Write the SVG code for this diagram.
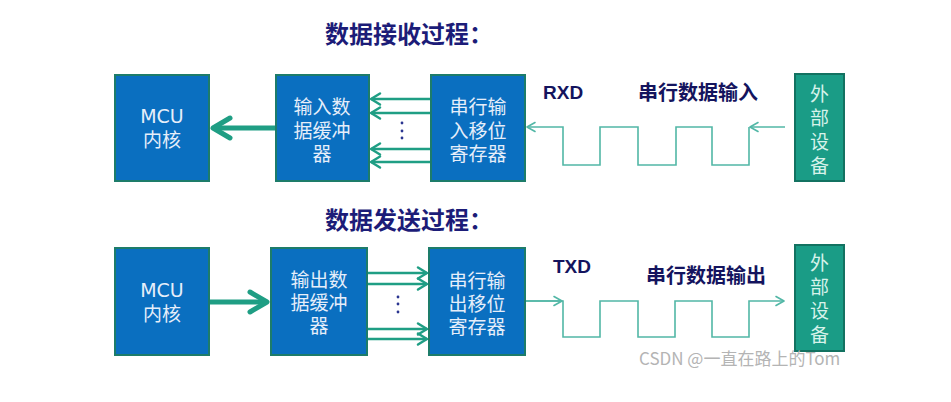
<svg xmlns="http://www.w3.org/2000/svg" width="951" height="402" viewBox="0 0 951 402">
<style>
.title{font-family:"Noto Sans CJK SC","Liberation Sans",sans-serif;font-size:24px;font-weight:bold;fill:#1c1c78}
.lbl{font-family:"Liberation Sans","Noto Sans CJK SC",sans-serif;font-size:19px;font-weight:bold;fill:#14145e}
.cn{font-family:"Noto Sans CJK SC",sans-serif;font-size:20px;font-weight:bold;fill:#14145e}
.box{fill:#0a6fc0;stroke:#1d7c6a;stroke-width:2}
.ext{fill:#1a9c86;stroke:#137261;stroke-width:2}
.bt{font-family:"DejaVu Sans","Noto Sans CJK SC",sans-serif;font-size:19px;fill:#e6eefa;text-anchor:middle}
.et{font-family:"DejaVu Sans","Noto Sans CJK SC",sans-serif;font-size:19px;fill:#d6f2ea;text-anchor:middle}
.thick{stroke:#1f9e84;stroke-width:5;fill:none}
.thin{stroke:#1f9e84;stroke-width:2.5;fill:none}
.wave{stroke:#52b7a6;stroke-width:1.6;fill:none}
.dot{fill:#2a3590}
.wm{font-family:"Noto Sans CJK SC","Liberation Sans",sans-serif;font-size:17px;fill:#b4b4b4}
</style>
<defs>
<marker id="mThick" markerUnits="userSpaceOnUse" viewBox="-24 -14 28 28" refX="0" refY="0" markerWidth="28" markerHeight="28" orient="auto">
<path d="M-17,-10 L0,0 L-17,10" fill="none" stroke="#1f9e84" stroke-width="5" stroke-linecap="round" stroke-linejoin="round"/>
</marker>
<marker id="mThin" markerUnits="userSpaceOnUse" viewBox="-14 -8 16 16" refX="0" refY="0" markerWidth="16" markerHeight="16" orient="auto">
<path d="M-9,-5.5 L0,0 L-9,5.5" fill="none" stroke="#1f9e84" stroke-width="2.5" stroke-linecap="round" stroke-linejoin="round"/>
</marker>
<marker id="mWave" markerUnits="userSpaceOnUse" viewBox="-12 -7 14 14" refX="0" refY="0" markerWidth="14" markerHeight="14" orient="auto">
<path d="M-8,-4.5 L0,0 L-8,4.5" fill="none" stroke="#52b7a6" stroke-width="1.6" stroke-linecap="round" stroke-linejoin="round"/>
</marker>
</defs>
<rect width="951" height="402" fill="#ffffff"/>

<text class="title" x="325" y="43">数据接收过程：</text>
<text class="title" x="325" y="229">数据发送过程：</text>

<text class="lbl" x="543" y="99">RXD</text>
<text class="cn" x="638" y="100">串行数据输入</text>
<text class="lbl" x="553" y="273">TXD</text>
<text class="cn" x="646" y="283">串行数据输出</text>

<g id="connectors">
<path class="thick" d="M276,128 L213,128" marker-end="url(#mThick)"/>
<path class="thin" d="M431,99 L371,99" marker-end="url(#mThin)"/>
<path class="thin" d="M431,113 L371,113" marker-end="url(#mThin)"/>
<path class="thin" d="M431,149 L371,149" marker-end="url(#mThin)"/>
<path class="thin" d="M431,162 L371,162" marker-end="url(#mThin)"/>
<path class="wave" d="M785,127 L750,127" marker-end="url(#mWave)"/>
<path class="wave" d="M749,127 L749,165 L712,165 L712,127 L676,127 L676,165 L638,165 L638,127 L600,127 L600,165 L563,165 L563,127 L527,127" marker-end="url(#mWave)"/>

<path class="thick" d="M209,302 L267,302" marker-end="url(#mThick)"/>
<path class="thin" d="M367,273 L427,273" marker-end="url(#mThin)"/>
<path class="thin" d="M367,284 L427,284" marker-end="url(#mThin)"/>
<path class="thin" d="M367,329 L427,329" marker-end="url(#mThin)"/>
<path class="thin" d="M367,339 L427,339" marker-end="url(#mThin)"/>
<path class="wave" d="M525,301 L563,301 L563,337 L600,337 L600,301 L638,301 L638,337 L675,337 L675,301 L712,301 L712,337 L749,337 L749,301 L784,301" marker-end="url(#mWave)"/>
<path class="wave" d="M525,301 L562,301" marker-end="url(#mWave)"/>
</g>

<g id="dots">
<circle class="dot" cx="402" cy="123" r="1.4"/>
<circle class="dot" cx="402" cy="131" r="1.4"/>
<circle class="dot" cx="402" cy="138" r="1.4"/>
<circle class="dot" cx="398" cy="297" r="1.4"/>
<circle class="dot" cx="398" cy="304" r="1.4"/>
<circle class="dot" cx="398" cy="312" r="1.4"/>
</g>

<g id="mcu-rx">
<rect class="box" x="115" y="75" width="94" height="106"/>
<text class="bt" x="162" y="123">MCU</text>
<text class="bt" x="162" y="147">内核</text>
</g>
<g id="buffer-rx">
<rect class="box" x="276" y="75" width="93" height="106"/>
<text class="bt" x="322" y="114">输入数</text>
<text class="bt" x="322" y="138">据缓冲</text>
<text class="bt" x="322" y="161">器</text>
</g>
<g id="shift-rx">
<rect class="box" x="431" y="75" width="94" height="106"/>
<text class="bt" x="478" y="114">串行输</text>
<text class="bt" x="478" y="138">入移位</text>
<text class="bt" x="478" y="161">寄存器</text>
</g>
<g id="ext-rx">
<rect class="ext" x="795" y="74" width="49" height="107"/>
<text class="et" x="819.5" y="101">外</text>
<text class="et" x="819.5" y="125">部</text>
<text class="et" x="819.5" y="149">设</text>
<text class="et" x="819.5" y="173">备</text>
</g>

<g id="mcu-tx">
<rect class="box" x="115" y="248" width="94" height="107"/>
<text class="bt" x="162" y="297">MCU</text>
<text class="bt" x="162" y="321">内核</text>
</g>
<g id="buffer-tx">
<rect class="box" x="271" y="248" width="96" height="107"/>
<text class="bt" x="319" y="287">输出数</text>
<text class="bt" x="319" y="310">据缓冲</text>
<text class="bt" x="319" y="333">器</text>
</g>
<g id="shift-tx">
<rect class="box" x="429" y="248" width="96" height="107"/>
<text class="bt" x="477" y="288">串行输</text>
<text class="bt" x="477" y="311">出移位</text>
<text class="bt" x="477" y="334">寄存器</text>
</g>
<g id="ext-tx">
<rect class="ext" x="795" y="245" width="49" height="106"/>
<text class="et" x="819.5" y="270">外</text>
<text class="et" x="819.5" y="294">部</text>
<text class="et" x="819.5" y="318">设</text>
<text class="et" x="819.5" y="342">备</text>
</g>

<text class="wm" x="639" y="365">CSDN @一直在路上的Tom</text>
</svg>
